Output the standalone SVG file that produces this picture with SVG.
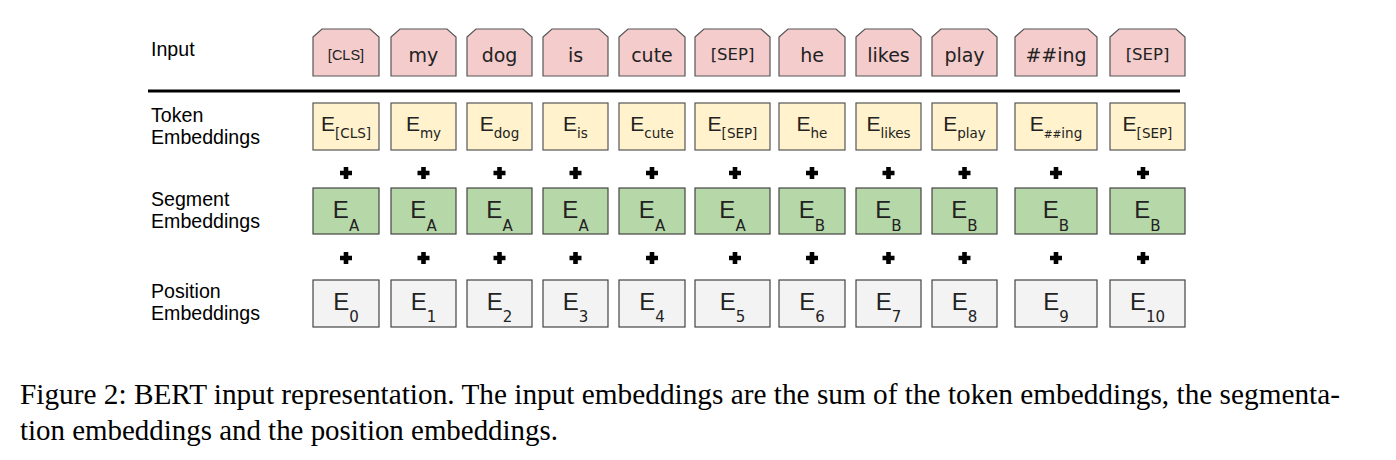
<svg xmlns="http://www.w3.org/2000/svg" width="1396" height="460" viewBox="0 0 1396 460">
<style>
.lbl{font-family:"Liberation Sans",Arial,sans-serif;font-size:19.6px;fill:#000}
.tok{font-family:"DejaVu Sans","Liberation Sans",sans-serif;font-size:19px;fill:#222;text-anchor:middle}
.tokA{font-family:"Liberation Sans",Arial,sans-serif;font-size:14.5px;fill:#222;text-anchor:middle}
.sep{font-size:16.5px}
.inp{fill:#f4cccc;stroke:#555;stroke-width:1.2}
.te{fill:#fff2cc;stroke:#555;stroke-width:1.2}
.se{fill:#b6d7a8;stroke:#444;stroke-width:1.2}
.pe{fill:#f3f3f3;stroke:#444;stroke-width:1.2}
.e{font-family:"Liberation Sans",Arial,sans-serif;fill:#222;text-anchor:middle}
.eT{font-size:21px}
.eS{font-size:24px}
.sT{font-family:"DejaVu Sans","Liberation Sans",sans-serif;font-size:13.5px}
.hh{font-size:10.5px}
.sS{font-family:"DejaVu Sans","Liberation Sans",sans-serif;font-size:15px}
.cap{font-family:"Liberation Serif","Times New Roman",serif;font-size:29px;fill:#000}
</style>
<defs>
<path id="plus" d="M-2.3,-6 H2.3 V-2.3 H6 V2.3 H2.3 V6 H-2.3 V2.3 H-6 V-2.3 H-2.3 Z" fill="#000"/>
</defs>

<g id="labels">
<text class="lbl" x="151" y="56">Input</text>
<text class="lbl" x="151" y="122">Token</text>
<text class="lbl" x="151" y="144">Embeddings</text>
<text class="lbl" x="151" y="206">Segment</text>
<text class="lbl" x="151" y="228">Embeddings</text>
<text class="lbl" x="151" y="298">Position</text>
<text class="lbl" x="151" y="320">Embeddings</text>
</g>

<g id="separator">
<line x1="148" y1="91" x2="1180" y2="91" stroke="#000" stroke-width="3"/>
</g>

<g id="input-row">
<g id="in0"><path class="inp" d="M313,37 L322,29 H370 L379,37 V76 H313 Z"/><text class="tokA" x="346" y="60">[CLS]</text></g>
<g id="in1"><path class="inp" d="M391,37 L400,29 H447 L456,37 V76 H391 Z"/><text class="tok" x="423.5" y="62">my</text></g>
<g id="in2"><path class="inp" d="M467,37 L476,29 H523 L532,37 V76 H467 Z"/><text class="tok" x="499.5" y="62">dog</text></g>
<g id="in3"><path class="inp" d="M543,37 L552,29 H599 L608,37 V76 H543 Z"/><text class="tok" x="575.5" y="62">is</text></g>
<g id="in4"><path class="inp" d="M619,37 L628,29 H676 L685,37 V76 H619 Z"/><text class="tok" x="652" y="62">cute</text></g>
<g id="in5"><path class="inp" d="M695,37 L704,29 H761 L770,37 V76 H695 Z"/><text class="tok sep" x="732.5" y="60">[SEP]</text></g>
<g id="in6"><path class="inp" d="M779,37 L788,29 H836 L845,37 V76 H779 Z"/><text class="tok" x="812" y="62">he</text></g>
<g id="in7"><path class="inp" d="M856,37 L865,29 H912 L921,37 V76 H856 Z"/><text class="tok" x="888.5" y="62">likes</text></g>
<g id="in8"><path class="inp" d="M932,37 L941,29 H988 L997,37 V76 H932 Z"/><text class="tok" x="964.5" y="62">play</text></g>
<g id="in9"><path class="inp" d="M1015,37 L1024,29 H1088 L1097,37 V76 H1015 Z"/><text class="tok" x="1056" y="62">##ing</text></g>
<g id="in10"><path class="inp" d="M1110,37 L1119,29 H1176 L1185,37 V76 H1110 Z"/><text class="tok sep" x="1147.5" y="60">[SEP]</text></g>
</g>

<g id="token-row">
<g id="te0"><rect class="te" x="313" y="103" width="66" height="47"/><text class="e eT" x="346" y="131">E<tspan class="sT" dy="7">[CLS]</tspan></text></g>
<g id="te1"><rect class="te" x="391" y="103" width="65" height="47"/><text class="e eT" x="423.5" y="131">E<tspan class="sT" dy="7">my</tspan></text></g>
<g id="te2"><rect class="te" x="467" y="103" width="65" height="47"/><text class="e eT" x="499.5" y="131">E<tspan class="sT" dy="7">dog</tspan></text></g>
<g id="te3"><rect class="te" x="543" y="103" width="65" height="47"/><text class="e eT" x="575.5" y="131">E<tspan class="sT" dy="7">is</tspan></text></g>
<g id="te4"><rect class="te" x="619" y="103" width="66" height="47"/><text class="e eT" x="652" y="131">E<tspan class="sT" dy="7">cute</tspan></text></g>
<g id="te5"><rect class="te" x="695" y="103" width="75" height="47"/><text class="e eT" x="732.5" y="131">E<tspan class="sT" dy="7">[SEP]</tspan></text></g>
<g id="te6"><rect class="te" x="779" y="103" width="66" height="47"/><text class="e eT" x="812" y="131">E<tspan class="sT" dy="7">he</tspan></text></g>
<g id="te7"><rect class="te" x="856" y="103" width="65" height="47"/><text class="e eT" x="888.5" y="131">E<tspan class="sT" dy="7">likes</tspan></text></g>
<g id="te8"><rect class="te" x="932" y="103" width="65" height="47"/><text class="e eT" x="964.5" y="131">E<tspan class="sT" dy="7">play</tspan></text></g>
<g id="te9"><rect class="te" x="1015" y="103" width="82" height="47"/><text class="e eT" x="1056" y="131">E<tspan class="sT hh" dy="7">##</tspan><tspan class="sT">ing</tspan></text></g>
<g id="te10"><rect class="te" x="1110" y="103" width="75" height="47"/><text class="e eT" x="1147.5" y="131">E<tspan class="sT" dy="7">[SEP]</tspan></text></g>
</g>

<g id="operators">
<use href="#plus" x="346" y="173"/><use href="#plus" x="423.5" y="173"/><use href="#plus" x="499.5" y="173"/><use href="#plus" x="575.5" y="173"/><use href="#plus" x="652" y="173"/><use href="#plus" x="735" y="173"/><use href="#plus" x="812" y="173"/><use href="#plus" x="888.5" y="173"/><use href="#plus" x="964.5" y="173"/><use href="#plus" x="1056" y="173"/><use href="#plus" x="1143" y="173"/>
<use href="#plus" x="346" y="258"/><use href="#plus" x="423.5" y="258"/><use href="#plus" x="499.5" y="258"/><use href="#plus" x="575.5" y="258"/><use href="#plus" x="652" y="258"/><use href="#plus" x="735" y="258"/><use href="#plus" x="812" y="258"/><use href="#plus" x="888.5" y="258"/><use href="#plus" x="964.5" y="258"/><use href="#plus" x="1056" y="258"/><use href="#plus" x="1143" y="258"/>
</g>

<g id="segment-row">
<g id="se0"><rect class="se" x="313" y="188" width="66" height="46"/><text class="e eS" x="346" y="218">E<tspan class="sS" dy="13">A</tspan></text></g>
<g id="se1"><rect class="se" x="391" y="188" width="65" height="46"/><text class="e eS" x="423.5" y="218">E<tspan class="sS" dy="13">A</tspan></text></g>
<g id="se2"><rect class="se" x="467" y="188" width="65" height="46"/><text class="e eS" x="499.5" y="218">E<tspan class="sS" dy="13">A</tspan></text></g>
<g id="se3"><rect class="se" x="543" y="188" width="65" height="46"/><text class="e eS" x="575.5" y="218">E<tspan class="sS" dy="13">A</tspan></text></g>
<g id="se4"><rect class="se" x="619" y="188" width="66" height="46"/><text class="e eS" x="652" y="218">E<tspan class="sS" dy="13">A</tspan></text></g>
<g id="se5"><rect class="se" x="695" y="188" width="75" height="46"/><text class="e eS" x="732.5" y="218">E<tspan class="sS" dy="13">A</tspan></text></g>
<g id="se6"><rect class="se" x="779" y="188" width="66" height="46"/><text class="e eS" x="812" y="218">E<tspan class="sS" dy="13">B</tspan></text></g>
<g id="se7"><rect class="se" x="856" y="188" width="65" height="46"/><text class="e eS" x="888.5" y="218">E<tspan class="sS" dy="13">B</tspan></text></g>
<g id="se8"><rect class="se" x="932" y="188" width="65" height="46"/><text class="e eS" x="964.5" y="218">E<tspan class="sS" dy="13">B</tspan></text></g>
<g id="se9"><rect class="se" x="1015" y="188" width="82" height="46"/><text class="e eS" x="1056" y="218">E<tspan class="sS" dy="13">B</tspan></text></g>
<g id="se10"><rect class="se" x="1110" y="188" width="75" height="46"/><text class="e eS" x="1147.5" y="218">E<tspan class="sS" dy="13">B</tspan></text></g>
</g>

<g id="position-row">
<g id="pe0"><rect class="pe" x="313" y="280" width="66" height="47"/><text class="e eS" x="346" y="310">E<tspan class="sS" dy="12">0</tspan></text></g>
<g id="pe1"><rect class="pe" x="391" y="280" width="65" height="47"/><text class="e eS" x="423.5" y="310">E<tspan class="sS" dy="12">1</tspan></text></g>
<g id="pe2"><rect class="pe" x="467" y="280" width="65" height="47"/><text class="e eS" x="499.5" y="310">E<tspan class="sS" dy="12">2</tspan></text></g>
<g id="pe3"><rect class="pe" x="543" y="280" width="65" height="47"/><text class="e eS" x="575.5" y="310">E<tspan class="sS" dy="12">3</tspan></text></g>
<g id="pe4"><rect class="pe" x="619" y="280" width="66" height="47"/><text class="e eS" x="652" y="310">E<tspan class="sS" dy="12">4</tspan></text></g>
<g id="pe5"><rect class="pe" x="695" y="280" width="75" height="47"/><text class="e eS" x="732.5" y="310">E<tspan class="sS" dy="12">5</tspan></text></g>
<g id="pe6"><rect class="pe" x="779" y="280" width="66" height="47"/><text class="e eS" x="812" y="310">E<tspan class="sS" dy="12">6</tspan></text></g>
<g id="pe7"><rect class="pe" x="856" y="280" width="65" height="47"/><text class="e eS" x="888.5" y="310">E<tspan class="sS" dy="12">7</tspan></text></g>
<g id="pe8"><rect class="pe" x="932" y="280" width="65" height="47"/><text class="e eS" x="964.5" y="310">E<tspan class="sS" dy="12">8</tspan></text></g>
<g id="pe9"><rect class="pe" x="1015" y="280" width="82" height="47"/><text class="e eS" x="1056" y="310">E<tspan class="sS" dy="12">9</tspan></text></g>
<g id="pe10"><rect class="pe" x="1110" y="280" width="75" height="47"/><text class="e eS" x="1147.5" y="310">E<tspan class="sS" dy="12">10</tspan></text></g>
</g>

<g id="connectors"></g>

<g id="caption">
<text class="cap" x="20" y="404" textLength="1320" lengthAdjust="spacingAndGlyphs">Figure 2: BERT input representation. The input embeddings are the sum of the token embeddings, the segmenta-</text>
<text class="cap" x="20" y="440" textLength="538" lengthAdjust="spacingAndGlyphs">tion embeddings and the position embeddings.</text>
</g>
</svg>
